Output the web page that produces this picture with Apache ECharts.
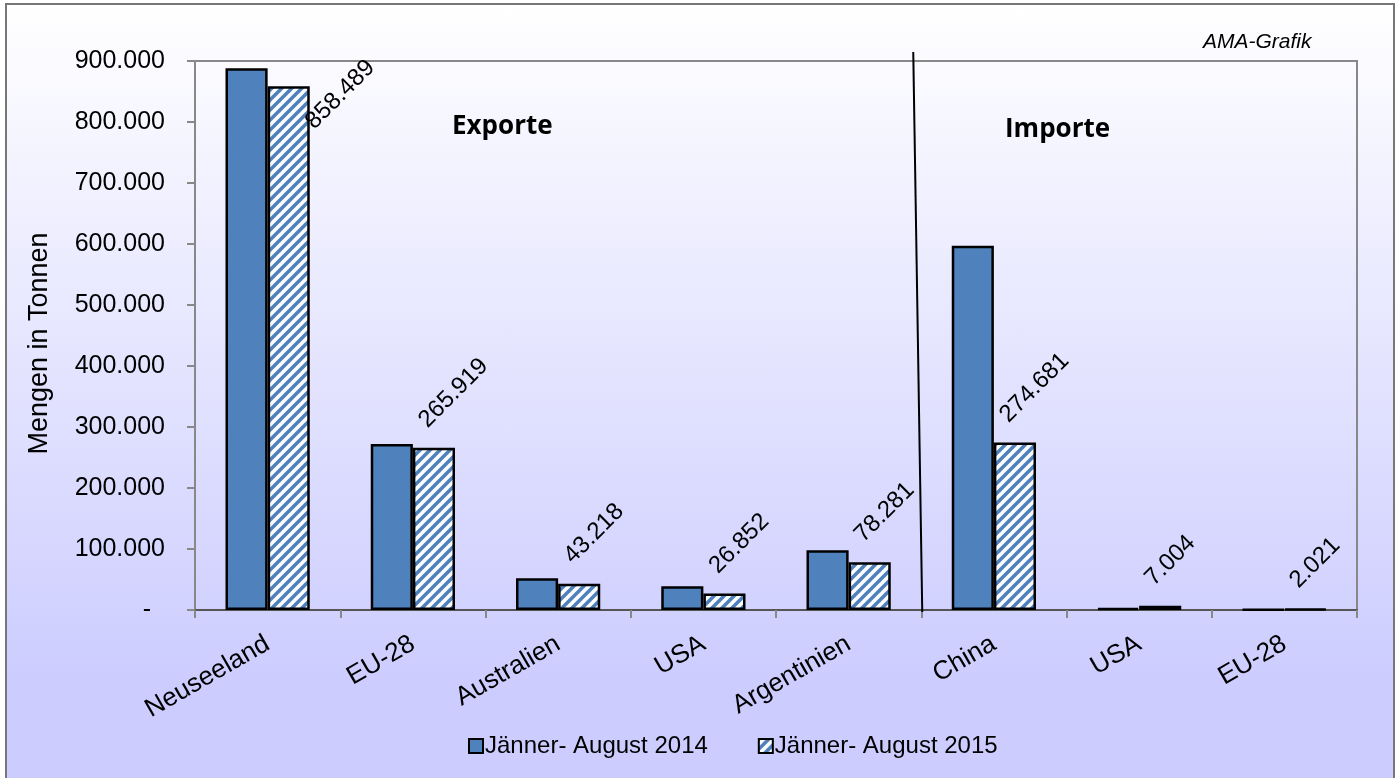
<!DOCTYPE html>
<html>
<head>
<meta charset="utf-8">
<script src="https://cdn.jsdelivr.net/npm/echarts@6/dist/echarts.min.js"></script>
<style>
  html, body { margin: 0; padding: 0; background: #fff; }
  .wrap { position: relative; width: 1398px; height: 778px; overflow: hidden; }
  .frame {
    position: absolute; left: 5px; top: 3px; width: 1386px; height: 800px;
    border: 2px solid #777;
    background: linear-gradient(to bottom, #ffffff 0%, #ccccff 85%, #ccccff 100%);
  }
  #chart { position: absolute; left: 0; top: 0; width: 1398px; height: 778px; }
</style>
</head>
<body>
<div class="wrap">
  <div class="frame"></div>
  <div id="chart"></div>
</div>
<script>
// Kategorien (Exporte: 0-4, Importe: 5-7)
const categories = ['Neuseeland', 'EU-28', 'Australien', 'USA', 'Argentinien', 'China', 'USA', 'EU-28'];
const seriesNames = ['Jänner- August 2014', 'Jänner- August 2015'];
const values2014 = [888000, 272000, 52000, 39000, 98000, 597000, 3000, 800];
const values2015 = [858489, 265919, 43218, 26852, 78281, 274681, 7004, 2021];
const yTicks = [0, 100000, 200000, 300000, 400000, 500000, 600000, 700000, 800000, 900000];

const FONT = 'Liberation Sans, Arial, sans-serif';
const BLUE = '#4F81BD';

function fmt (v) {
  return String(Math.round(v)).replace(/\B(?=(\d{3})+(?!\d))/g, '.');
}

// Schraffur für 2015
function stripes () {
  const c = document.createElement('canvas');
  c.width = 10;
  c.height = 10;
  const g = c.getContext('2d');
  g.fillStyle = '#fff';
  g.fillRect(0, 0, 10, 10);
  g.strokeStyle = BLUE;
  g.lineWidth = 3.5;
  [[-5, 5, 5, -5], [0, 10, 10, 0], [5, 15, 15, 5]].forEach((l) => {
    g.beginPath();
    g.moveTo(l[0], l[1]);
    g.lineTo(l[2], l[3]);
    g.stroke();
  });
  return c;
}

const chart = echarts.init(document.getElementById('chart'));

const labelBase = {
  show: true,
  position: [10, -24],
  rotate: 45,
  align: 'left',
  verticalAlign: 'middle',
  fontSize: 24,
  fontFamily: FONT,
  color: '#000',
  formatter: (p) => fmt(p.value),
};

const data2015 = values2015.map((v, i) => {
  if (i === 0) return { value: v, label: { position: [42, 39] } };
  return v;
});

const option = {
  animation: false,
  backgroundColor: 'transparent',
  grid: {
    left: 195, right: 41, top: 61, bottom: 168,
    show: true, borderColor: '#888', borderWidth: 2, backgroundColor: 'transparent',
  },
  legend: {
    left: 463,
    top: 729,
    itemWidth: 14,
    itemHeight: 14,
    itemGap: 50,
    icon: 'rect',
    textStyle: { fontSize: 24, fontFamily: FONT, color: '#000', padding: [0, 0, 0, -3] },
    data: seriesNames,
  },
  xAxis: {
    type: 'category',
    data: categories,
    axisLine: { lineStyle: { color: '#555', width: 2 } },
    axisTick: { show: true, interval: 0, length: 8, lineStyle: { color: '#888', width: 2 } },
    axisLabel: { interval: 0, rotate: 30, fontSize: 26, fontFamily: FONT, color: '#000', margin: 32 },
  },
  yAxis: {
    type: 'value',
    min: yTicks[0],
    max: yTicks[yTicks.length - 1],
    interval: yTicks[1] - yTicks[0],
    name: 'Mengen in Tonnen',
    nameLocation: 'middle',
    nameGap: 142,
    nameTextStyle: { fontSize: 27, fontFamily: FONT, color: '#000', padding: [0, 16, 0, 0] },
    axisLine: { show: true, lineStyle: { color: '#888', width: 2 } },
    axisTick: { show: true, length: 8, lineStyle: { color: '#888', width: 2 } },
    axisLabel: {
      fontSize: 25, fontFamily: FONT, color: '#000', margin: 30,
      formatter: (v) => (v === 0 ? '-  ' : fmt(v)),
    },
    splitLine: { show: false },
  },
  series: [
    {
      name: seriesNames[0],
      type: 'bar',
      data: values2014,
      barGap: '0%',
      barCategoryGap: '42%',
      itemStyle: { color: BLUE, borderColor: '#000', borderWidth: 2.5 },
    },
    {
      name: seriesNames[1],
      type: 'bar',
      data: data2015,
      itemStyle: { color: { image: stripes(), repeat: 'repeat' }, borderColor: '#000', borderWidth: 2.5 },
      label: labelBase,
    },
  ],
};

chart.setOption(option);

// Trennlinie Exporte / Importe und Beschriftungen
const x4 = chart.convertToPixel({ xAxisIndex: 0 }, 4);
const x5 = chart.convertToPixel({ xAxisIndex: 0 }, 5);
const bx = (x4 + x5) / 2;
chart.setOption({
  graphic: [
    {
      type: 'line',
      shape: { x1: bx - 8, y1: 52, x2: bx + 1, y2: 612 },
      style: { stroke: '#000', lineWidth: 2 },
      z: 50,
    },
    {
      type: 'text',
      left: 452, top: 114,
      style: { text: 'Exporte', font: 'bold 26px "Open Sans", sans-serif', fill: '#000' },
    },
    {
      type: 'text',
      left: 1005, top: 117,
      style: { text: 'Importe', font: 'bold 26px "Open Sans", sans-serif', fill: '#000' },
    },
    {
      type: 'text',
      left: 1203, top: 32,
      style: { text: 'AMA-Grafik', font: 'italic 21px "Liberation Sans", Arial, sans-serif', fill: '#000' },
    },
  ],
});
</script>
</body>
</html>
